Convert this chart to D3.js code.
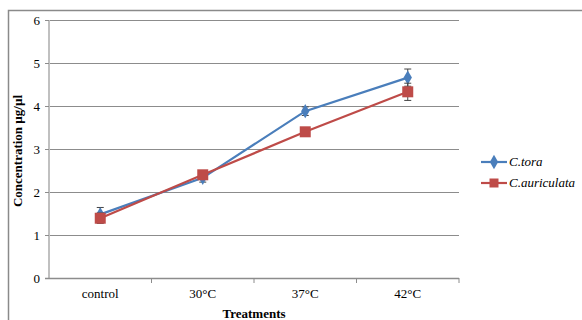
<!DOCTYPE html>
<html><head><meta charset="utf-8">
<script src="https://cdn.jsdelivr.net/npm/d3@7"></script>
<style>body{margin:0;background:#fff}svg{display:block}</style>
</head><body>
<script>
const categories = ["control", "30°C", "37°C", "42°C"];
const toraValues = [1.48, 2.33, 3.88, 4.66];
const toraErrors = [0.16, 0.1, 0.1, 0.2];
const auriValues = [1.39, 2.4, 3.4, 4.33];
const auriErrors = [0.12, 0.08, 0.04, 0.2];
const yTicks = [0, 1, 2, 3, 4, 5, 6];
const seriesNames = ["C.tora", "C.auriculata"];

const W = 582, H = 320;
const svg = d3.select("body").append("svg").attr("width", W).attr("height", H);
const m = {left: 49, right: 459, top: 20, bottom: 278};
const FS = 13;

svg.append("rect").attr("x", 8.5).attr("y", 10.5).attr("width", 600).attr("height", 400)
  .attr("fill", "none").attr("stroke", "#8a8a8a").attr("stroke-width", 1.5);

const x = d3.scaleBand().domain(categories).range([m.left, m.right]).padding(0);
const y = d3.scaleLinear().domain([0, 6]).range([m.bottom, m.top]);

// gridlines
svg.append("g").selectAll("line").data(yTicks.filter(d => d > 0)).join("line")
  .attr("x1", m.left).attr("x2", m.right)
  .attr("y1", d => y(d) + 0.5).attr("y2", d => y(d) + 0.5)
  .attr("stroke", "#8c8c8c").attr("stroke-width", 1);

// y axis
const ya = svg.append("g").attr("transform", `translate(${m.left},0)`)
  .call(d3.axisLeft(y).tickValues(yTicks).tickSize(4).tickPadding(5).tickFormat(d3.format("d")));
ya.select(".domain").attr("stroke", "#c0c0c0").attr("stroke-width", 2).attr("d", `M0,${m.top}V${m.bottom}`);
ya.selectAll(".tick line").attr("stroke", "#8c8c8c");
ya.selectAll("text").attr("font-family", "Liberation Serif").attr("font-size", FS).attr("fill", "#000");

// x axis
const xa = svg.append("g").attr("transform", `translate(0,${m.bottom})`)
  .call(d3.axisBottom(x).tickSize(0).tickPadding(11));
xa.select(".domain").attr("stroke", "#8c8c8c").attr("stroke-width", 1.5).attr("d", `M${m.left - 4},0.5H${m.right}`);
xa.selectAll("text").attr("font-family", "Liberation Serif").attr("font-size", FS).attr("fill", "#000");
svg.append("g").selectAll("line").data(categories).join("line")
  .attr("x1", d => x(d) + x.bandwidth()).attr("x2", d => x(d) + x.bandwidth())
  .attr("y1", m.bottom).attr("y2", m.bottom + 5).attr("stroke", "#8c8c8c");

const cx = d => x(d) + x.bandwidth() / 2;

function drawSeries(vals, errs, color, shape) {
  const g = svg.append("g");
  categories.forEach((c, i) => {
    const xx = cx(c);
    const y1 = y(vals[i] + errs[i]), y2 = y(vals[i] - errs[i]);
    g.append("line").attr("x1", xx).attr("x2", xx).attr("y1", y1).attr("y2", y2).attr("stroke", "#444").attr("stroke-width", 1);
    g.append("line").attr("x1", xx - 3.5).attr("x2", xx + 3.5).attr("y1", y1).attr("y2", y1).attr("stroke", "#444").attr("stroke-width", 1);
    g.append("line").attr("x1", xx - 3.5).attr("x2", xx + 3.5).attr("y1", y2).attr("y2", y2).attr("stroke", "#444").attr("stroke-width", 1);
  });
  const line = d3.line().x((d, i) => cx(categories[i])).y(d => y(d));
  g.append("path").datum(vals).attr("d", line).attr("fill", "none").attr("stroke", color).attr("stroke-width", 2.2);
  g.selectAll(".pt").data(vals).join("path")
    .attr("transform", (d, i) => `translate(${cx(categories[i])},${y(d)})`)
    .attr("d", shape).attr("fill", color);
}
const diamond = d3.symbol().type(d3.symbolDiamond).size(60)();
const square = "M-5.5,-5.5H5.5V5.5H-5.5Z";
drawSeries(toraValues, toraErrors, "#4a7ebb", diamond);
drawSeries(auriValues, auriErrors, "#be4b48", square);

// legend
const legend = [{name: seriesNames[0], color: "#4a7ebb", shape: diamond, y: 162},
                {name: seriesNames[1], color: "#be4b48", shape: "M-4.5,-4.5H4.5V4.5H-4.5Z", y: 183}];
const lg = svg.append("g").selectAll("g").data(legend).join("g");
lg.append("line").attr("x1", 481).attr("x2", 507).attr("y1", d => d.y).attr("y2", d => d.y)
  .attr("stroke", d => d.color).attr("stroke-width", 2.2);
lg.append("path").attr("transform", d => `translate(494,${d.y})`).attr("d", d => d.shape).attr("fill", d => d.color);
lg.append("text").attr("x", 509).attr("y", d => d.y + 4).text(d => d.name)
  .attr("font-family", "Liberation Serif").attr("font-style", "italic").attr("font-size", FS);

// axis titles
svg.append("text").attr("transform", `translate(22,${(m.top + m.bottom) / 2 + 2}) rotate(-90)`)
  .attr("text-anchor", "middle").attr("font-family", "Liberation Serif").attr("font-weight", "bold")
  .attr("font-size", FS).text("Concentration µg/µl");
svg.append("text").attr("x", (m.left + m.right) / 2).attr("y", 318).attr("text-anchor", "middle")
  .attr("font-family", "Liberation Serif").attr("font-weight", "bold").attr("font-size", FS).text("Treatments");
</script>
</body></html>
